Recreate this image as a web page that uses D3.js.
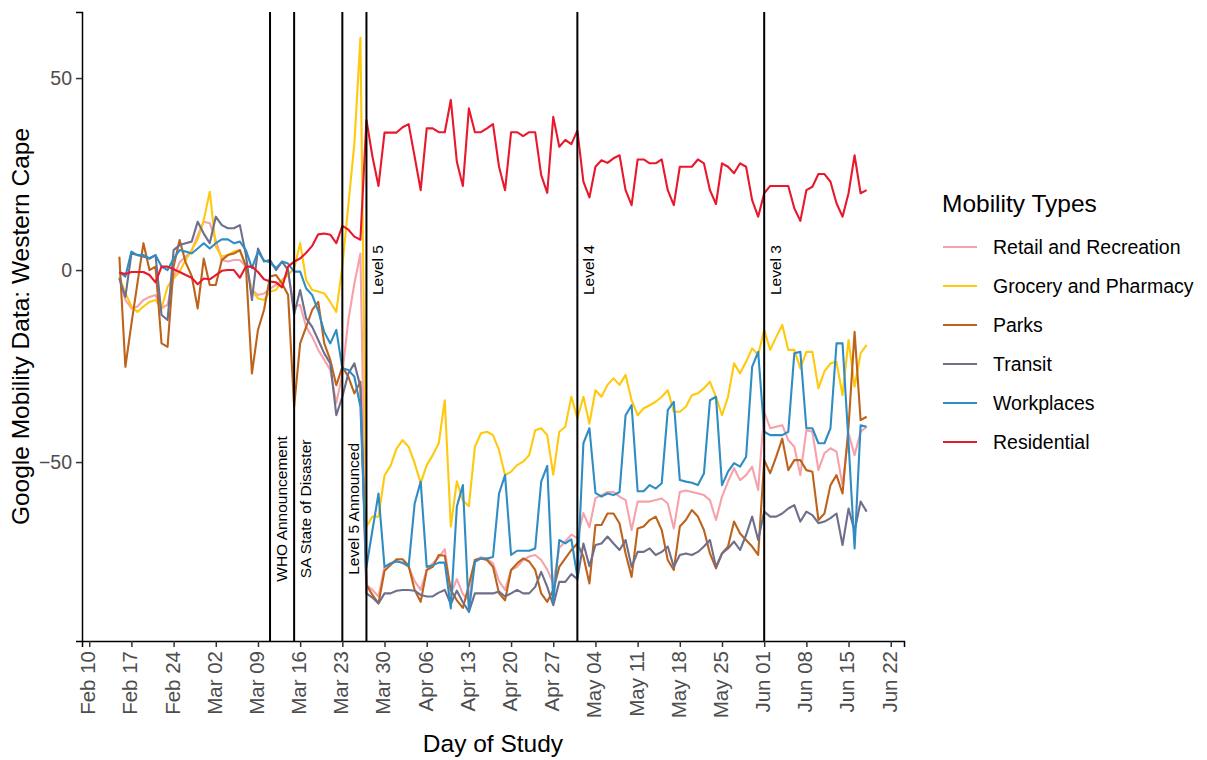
<!DOCTYPE html>
<html>
<head>
<meta charset="utf-8">
<script src="https://cdn.jsdelivr.net/npm/d3@7"></script>
<style>
  body { margin: 0; background: #fff; }
  svg text { font-family: "Liberation Sans", Arial, sans-serif; }
</style>
</head>
<body>
<svg id="chart" width="1207" height="760"></svg>
<script>
// Google mobility, Western Cape, one value per day from 15 Feb 2020
const startDay = '2020-02-15';

const retail = [
  -2, -7.8, -10, -9.5, -7.8, -7, -6.5, -10, -9, -2, 2, 3.5, 5, 9, 12.6, 12.2, 7.8, 2.6, 2.2, 2.6,
  2.6, 0.9, -5.2, -6.5, -6.1, -4.8, -3.9, -2.6, -0.9, -9.5, -9.1, -14.8, -17.4, -20.8, -23.4, -26, -34.7, -27, -13, -3.5,
  4.3, -82, -83.3, -85, -77.3, -76.4, -75.5, -76.4, -77.3, -81, -83.3, -78.1, -76.4, -74.8, -72.7, -84.4, -80.5, -84.4, -86, -75.5,
  -74.8, -75.1, -76.4, -81, -83.3, -78.1, -77.3, -75.5, -74.6, -74.2, -75.5, -78, -81.6, -72.3, -70.7, -68.9, -69.8, -63.3, -67, -59.4,
  -58.6, -57.8, -57.8, -59, -59.9, -67.7, -60.3, -60.3, -60.3, -59.9, -59.5, -60.8, -67.3, -57.8, -57.4, -57.8, -58.2, -58.6, -59.9, -65.1,
  -59, -55.1, -51.6, -54.7, -53.4, -51.2, -57.3, -36.9, -41.2, -40.8, -40.4, -44.3, -46, -53.4, -41.7, -42.1, -52.1, -47.7, -46.4, -47.3,
  -56, -42.5, -48.2, -42.1, -40.8
];
const grocery = [
  -1.7, -6, -9.5, -10.9, -9.5, -8.3, -7.8, -10, -4.3, -2.2, -0.4, 2.6, 5.2, 8, 13, 20.4, 6.1, 3.5, 3.9, 4.8,
  5.2, 0.9, -5.2, -7.4, -7.8, -5.6, -5.2, -2.6, -1.3, 0.4, 7, -2.6, -5.2, -5.6, -6.1, -8.3, -10.9, 1, 17, 33,
  60.5, -66.8, -64.2, -64.2, -53.5, -51, -46.5, -44.3, -46, -50.3, -55.5, -50.8, -48.2, -45.1, -33.9, -66.8, -55, -60, -61.5, -46,
  -42.5, -42.1, -43, -46.9, -53.4, -52.5, -50.8, -49.9, -48.2, -41.7, -41.2, -43, -53.3, -42.1, -40.8, -33, -38.6, -33, -40, -31.3,
  -33, -29.9, -28.2, -29.9, -27.3, -33.9, -37.8, -36, -35.2, -34.3, -33, -31.3, -36.9, -36.9, -35.6, -32.6, -32.1, -30.8, -29.1, -33,
  -37.8, -33, -24.3, -26.9, -23.9, -20.4, -22.1, -15.6, -20.8, -17.4, -14.3, -20.8, -20.8, -25.6, -21.3, -21.3, -30.8, -26.4, -24.3, -23.9,
  -32.6, -18.2, -30.4, -21.7, -19.5
];
const parks = [
  3.5, -25.2, -14, -3.4, 7, 0, 0.9, -19.1, -20, 0.9, 7.8, 2, -1.5, -10, 3, -3.9, -3.9, 2.6, 3.9, 4.3,
  5.2, 1, -26.9, -15.6, -10.4, -1.7, -1.3, -3.5, -6.5, -35.6, -19.1, -14.8, -10.4, -8.3, -19.1, -23.4, -30, -25.2, -27.8, -32.1,
  -29.1, -82, -84.6, -86.8, -78.3, -76.8, -75.3, -75.3, -77, -83.3, -86.4, -78.1, -77.3, -74.2, -74.4, -83.3, -86, -88, -82, -75.5,
  -75.1, -75.5, -77.3, -84.2, -86, -78.1, -76.4, -75.1, -75.9, -78.1, -84.2, -86.4, -83.3, -77.3, -75.1, -72.9, -71.2, -74.6, -81.6, -66.4,
  -66.4, -63.4, -63.4, -66, -73.8, -79.9, -67.3, -66.8, -65.1, -64.2, -67.7, -75.5, -78.1, -66.8, -65.1, -62.5, -64.2, -67.7, -73.8, -77.7,
  -73.8, -72, -65.5, -68.6, -70.3, -72, -74.2, -49.5, -52.9, -48.6, -43.9, -52.1, -49.5, -49.5, -52.1, -52.5, -65.1, -63.4, -56, -53.4,
  -58.2, -40.8, -16.1, -39.1, -38.2
];
const transit = [
  -2.2, -7, 4.3, 3.9, 3.5, 3, 3.9, -11.7, -13, 5.2, 6.5, 7, 7.4, 12.6, 9.5, 7, 13.9, 11.7, 10.9, 10.9,
  11.7, 3.9, -7.8, 5.6, 2.2, 2.6, 0, 2.2, 0, -11.5, -5.2, -12.6, -14.8, -18.2, -21.7, -24.3, -37.8, -33, -26.9, -24.3,
  -30.3, -84.2, -85.3, -86.8, -84.2, -84.2, -83.5, -83.3, -83.3, -83.5, -84.6, -85, -85, -84, -83.3, -87, -83.5, -86.5, -89, -84.2,
  -84.2, -84.2, -84.2, -83.7, -85, -84.2, -83.3, -84.2, -84.2, -82.5, -78.6, -82.5, -87.3, -81.2, -81.2, -79.2, -80.5, -71.2, -77.1, -71.6,
  -71.2, -69.4, -71.2, -72.9, -70.3, -77.3, -73.4, -73.4, -72.5, -74.2, -73.4, -72, -77.3, -74.2, -73.8, -74.2, -73.4, -72, -70.3, -77.3,
  -73.8, -72.5, -70.7, -72.9, -69, -64.2, -70.3, -62.9, -64.2, -64.2, -63.4, -62.1, -61.2, -65.5, -62.9, -63.8, -65.9, -65.5, -64.6, -63.4,
  -71.6, -62.1, -68, -60.3, -62.9
];
const workplaces = [
  -0.4, -1.7, 4.8, 3.9, 3.9, 3, 3.9, 0.9, 0, 3, 5.2, 4.8, 4.3, 5.6, 7, 5.6, 7, 8, 8, 7,
  7.4, 5.2, 0.5, 4.8, 2.5, 2, 0.5, 2.2, 1.7, -0.4, -0.4, -4.8, -6.5, -10.6, -16.1, -19.1, -15.6, -25.6, -26, -27.8,
  -35.6, -77.3, -67.7, -58.2, -77.3, -76.4, -75.9, -76.2, -77.1, -60.8, -55.1, -77.3, -76.9, -76.2, -76.2, -88.1, -61.6, -56, -89, -76,
  -75.1, -75.1, -74.7, -58.2, -53.4, -74.2, -73.1, -73.1, -73.1, -72.5, -55.1, -51, -86.4, -70.3, -71.2, -70.1, -79.9, -45.1, -41.2, -58,
  -59, -58.2, -58.6, -57.8, -37.8, -35.2, -57.6, -57.6, -56, -56.9, -55.5, -36.5, -34.3, -54.7, -55.1, -55.4, -56, -53, -33.9, -33,
  -56, -52.5, -50.3, -51.2, -48.6, -25.2, -21.3, -42.1, -43, -43, -43, -42.1, -21.7, -21.3, -41.2, -41.2, -45.1, -45.1, -41.2, -19.1,
  -19.1, -45, -72.5, -40.4, -40.8
];
const residential = [
  -0.7, -1, -0.5, -0.5, -0.5, -1.3, -3.2, 0.9, 0.9, 0.2, -0.5, -1.3, -2, -3.7, -2.2, -2.4, -1.3, -0.2, 0, 0,
  -2, 0.9, 0.9, -0.5, -2.4, -3, -3.2, -4.5, 0.9, 2.2, 3, 4.5, 6.3, 9.3, 9.5, 9.2, 7, 11.5, 10.5, 8.7,
  7.9, 39.1, 29.5, 21.9, 35.8, 35.8, 35.8, 37.2, 38, 29.5, 20.8, 36.9, 36.9, 35.9, 35.9, 44.3, 28.2, 21.9, 42.1, 35.9,
  35.9, 36.9, 38, 26.9, 20.8, 35.9, 35.9, 34.9, 35.9, 35.9, 24.7, 20.1, 39.9, 32.1, 33.9, 32.8, 36.3, 23, 18.9, 26.9,
  28.6, 27.9, 29.1, 29.9, 20.8, 16.9, 28.8, 28.8, 27.8, 27.8, 28.8, 20.8, 16.9, 26.9, 26.9, 26.9, 28.8, 27.8, 20.8, 17.2,
  27.8, 26.9, 25.2, 27.8, 26.9, 18.2, 13.9, 20, 21.9, 21.9, 21.9, 21.9, 16.1, 12.8, 20.8, 21.7, 25, 25, 23, 17.4,
  13.9, 20, 29.9, 20, 20.8
];

const seriesNames = ['Retail and Recreation', 'Grocery and Pharmacy', 'Parks', 'Transit', 'Workplaces', 'Residential'];
const seriesValues = [retail, grocery, parks, transit, workplaces, residential];
const seriesColors = ['#f7a1ab', '#ffc90e', '#bd631b', '#6e6f8b', '#2f8dc4', '#e8192c'];

const eventDays = ['2020-03-11', '2020-03-15', '2020-03-23', '2020-03-27', '2020-05-01', '2020-06-01'];
const eventLabels = ['WHO Announcement', 'SA State of Disaster', 'Level 5 Announced', 'Level 5', 'Level 4', 'Level 3'];
const yTicks = [-50, 0, 50];

// ---- layout
const svg = d3.select('#chart');
const panel = {left: 82, right: 904, top: 12, bottom: 641};
const parseDay = d3.utcParse('%Y-%m-%d');
const start = parseDay(startDay);
const dates = retail.map((_, i) => d3.utcDay.offset(start, i));
const first = dates[0], last = dates[dates.length - 1];
const pad = (last - first) * 0.05;

const x = d3.scaleUtc()
  .domain([new Date(+first - pad), new Date(+last + pad)])
  .range([panel.left, panel.right]);
const y = d3.scaleLinear().domain([-96.6, 67.2]).range([panel.bottom, panel.top]);

// lines
const line = d3.line().x((d, i) => x(dates[i])).y(d => y(d));
svg.append('g')
  .selectAll('path')
  .data(seriesValues)
  .join('path')
  .attr('d', d => line(d))
  .attr('fill', 'none')
  .attr('stroke', (d, i) => seriesColors[i])
  .attr('stroke-width', 2.1)
  .attr('stroke-linejoin', 'round');

// event lines + labels
const ev = svg.append('g');
eventDays.forEach((day, i) => {
  const ex = x(parseDay(day));
  ev.append('line')
    .attr('x1', ex).attr('x2', ex)
    .attr('y1', panel.top).attr('y2', panel.bottom)
    .attr('stroke', '#000').attr('stroke-width', 2);
  const ly = i < 3 ? y(-62.2) : y(0);
  ev.append('text')
    .attr('transform', `translate(${ex + 17},${ly}) rotate(-90)`)
    .attr('text-anchor', 'middle')
    .attr('font-size', 15.5)
    .attr('fill', '#000')
    .text(eventLabels[i]);
});

// axes
const tickDates = d3.utcMonday.range(parseDay('2020-02-10'), parseDay('2020-06-23'));
const xAxis = svg.append('g')
  .attr('transform', `translate(0,${panel.bottom})`)
  .call(d3.axisBottom(x).tickValues(tickDates).tickFormat(d3.utcFormat('%b %d')).tickSizeOuter(0).tickSize(6));
xAxis.select('.domain').attr('stroke', '#000').attr('stroke-width', 1.5);
xAxis.selectAll('.tick line').attr('stroke', '#333').attr('stroke-width', 1.5);
xAxis.selectAll('.tick text')
  .attr('font-size', 20.5)
  .attr('fill', '#4d4d4d')
  .attr('text-anchor', 'end')
  .attr('dy', null)
  .attr('dominant-baseline', 'middle')
  .attr('transform', 'translate(0,10) rotate(-90)')
  .attr('x', 0).attr('y', 0);

const yAxis = svg.append('g')
  .attr('transform', `translate(${panel.left},0)`)
  .call(d3.axisLeft(y).tickValues(yTicks).tickSizeOuter(0).tickSize(6));
yAxis.select('.domain').attr('stroke', '#000').attr('stroke-width', 1.5);
yAxis.selectAll('.tick line').attr('stroke', '#333').attr('stroke-width', 1.5);
yAxis.selectAll('.tick text')
  .attr('font-size', 19.5)
  .attr('fill', '#4d4d4d')
  .attr('x', -10);

// axis titles
svg.append('text')
  .attr('x', (panel.left + panel.right) / 2).attr('y', 752)
  .attr('text-anchor', 'middle')
  .attr('font-size', 24.5)
  .text('Day of Study');
svg.append('text')
  .attr('transform', `translate(29,${(panel.top + panel.bottom) / 2}) rotate(-90)`)
  .attr('text-anchor', 'middle')
  .attr('font-size', 24.5)
  .text('Google Mobility Data: Western Cape');

// legend
const legend = svg.append('g').attr('transform', 'translate(942,0)');
legend.append('text')
  .attr('x', 0).attr('y', 212)
  .attr('font-size', 24.5)
  .text('Mobility Types');
seriesNames.forEach((name, i) => {
  const ly = 247 + i * 39;
  legend.append('line')
    .attr('x1', 1).attr('x2', 35)
    .attr('y1', ly).attr('y2', ly)
    .attr('stroke', seriesColors[i]).attr('stroke-width', 2);
  legend.append('text')
    .attr('x', 51).attr('y', ly)
    .attr('dy', '0.35em')
    .attr('font-size', 19.5)
    .text(name);
});
</script>
</body>
</html>
